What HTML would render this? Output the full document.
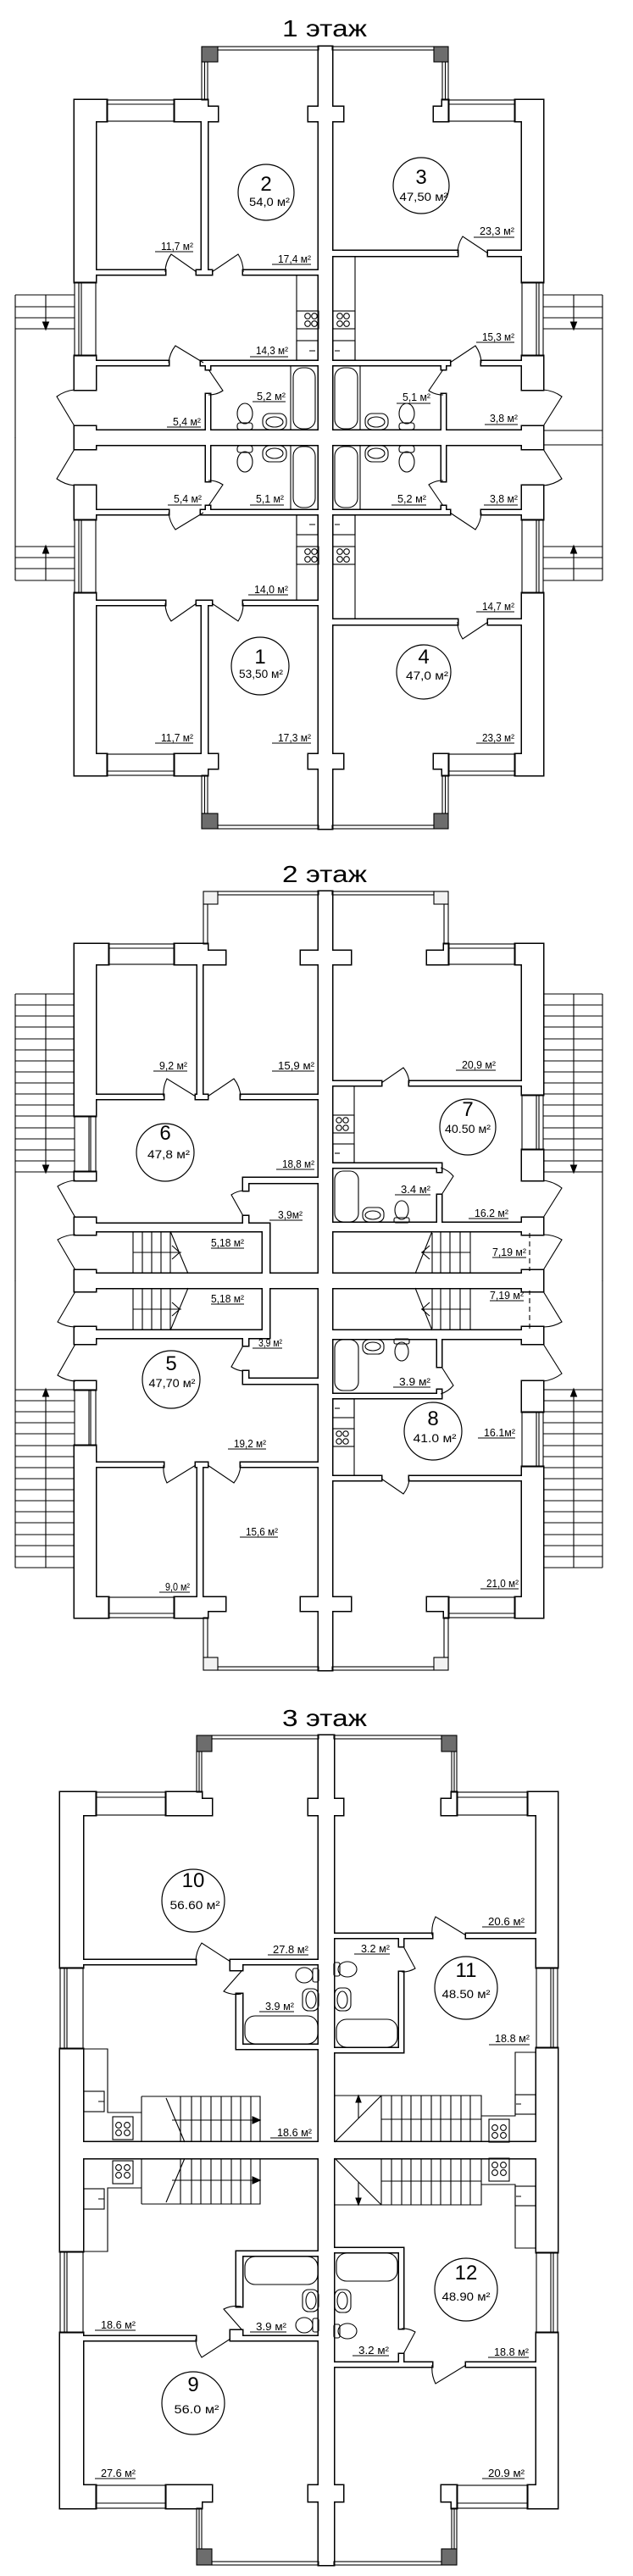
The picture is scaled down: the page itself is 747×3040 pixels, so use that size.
<!DOCTYPE html>
<html><head><meta charset="utf-8"><style>
html,body{margin:0;padding:0;background:#fff}
svg{display:block}
text{font-family:"Liberation Sans",Arial,sans-serif;font-size:13px;fill:#000}
.t{font-size:28px}
.n{font-size:24px;text-anchor:middle}
.a{font-size:14px;text-anchor:middle}
</style></head><body>
<svg xmlns="http://www.w3.org/2000/svg" xmlns:xlink="http://www.w3.org/1999/xlink" width="747" height="3040" viewBox="0 0 747 3040">
<defs>
<g id="w1">
<rect x="88" y="118" width="38" height="25"/><rect x="206" y="118" width="39" height="25"/><rect x="245" y="126" width="12" height="17"/>
<rect x="364" y="126" width="41" height="17"/><rect x="376" y="55" width="16" height="462"/>
<rect x="512" y="126" width="10" height="17"/><rect x="522" y="118" width="7" height="25"/><rect x="608" y="118" width="33" height="25"/>
<rect x="88" y="118" width="25" height="215"/><rect x="88" y="420" width="25" height="40"/><rect x="88" y="503" width="25" height="14"/>
<rect x="616" y="118" width="25" height="215"/><rect x="616" y="420" width="25" height="40"/><rect x="616" y="503" width="25" height="14"/>
<rect x="113" y="508" width="503" height="9"/>
<rect x="238" y="143" width="7" height="176"/><rect x="113" y="319" width="82" height="5"/><rect x="232" y="319" width="18" height="5"/><rect x="287" y="319" width="89" height="5"/>
<rect x="392" y="296" width="148" height="6"/><rect x="576" y="296" width="40" height="6"/>
<rect x="113" y="426" width="86" height="5"/><rect x="237" y="426" width="139" height="5"/><rect x="243" y="426" width="5" height="10"/><rect x="243" y="465" width="5" height="43"/>
<rect x="392" y="426" width="139" height="5"/><rect x="521" y="426" width="5" height="10"/><rect x="568" y="426" width="48" height="5"/><rect x="521" y="465" width="5" height="43"/>
</g>
<g id="d1">
<rect x="257" y="55" width="119" height="4"/><rect x="392" y="55" width="120" height="4"/>
<rect x="238" y="73" width="7" height="45"/><rect x="522" y="73" width="7" height="45"/>
<path d="M241.5,73V118M525.5,73V118"/>
<rect x="126" y="118" width="80" height="25"/><rect x="529" y="118" width="79" height="25"/><path d="M126,123H206M529,123H608"/>
<rect x="88" y="333" width="25" height="87"/><rect x="616" y="333" width="25" height="87"/>
<path d="M93,333V420M96,333V420M633,333V420M636,333V420"/>
<rect x="238" y="55" width="19" height="18" fill="#6d6d6d"/><rect x="512" y="55" width="17" height="18" fill="#6d6d6d"/>
<path d="M232,321L202,300A36,36 0 0 0 195,321M250,321L281,300A37,37 0 0 1 287,321M576,299L546,279A36,36 0 0 0 540,299M240,428L207,408A39,39 0 0 0 199,428M246,436L263,461A30,30 0 0 1 246,466M531,428L561,408A37,37 0 0 1 568,428M523,436L506,461A30,30 0 0 0 523,466M88,503L67,468A42,42 0 0 1 88,460M641,503L663,468A42,42 0 0 0 641,460"/>
<path d="M18,348H88M18,362H88M18,375H88M18,388H88M54,348V388M18,348V517M641,348H711M641,362H711M641,375H711M641,388H711M677,348V388M711,348V517M641,508H711"/>
<polygon points="50.5,380 57.5,380 54,389" fill="#000"/><polygon points="673.5,380 680.5,380 677,389" fill="#000"/>
<path d="M350,324V426M419,302V426"/>
<rect x="350" y="367" width="26" height="21"/><circle cx="363" cy="373" r="3.3"/><circle cx="371" cy="373" r="3.3"/><circle cx="363" cy="382" r="3.3"/><circle cx="371" cy="382" r="3.3"/>
<rect x="393" y="367" width="26" height="21"/><circle cx="401" cy="373" r="3.3"/><circle cx="409" cy="373" r="3.3"/><circle cx="401" cy="382" r="3.3"/><circle cx="409" cy="382" r="3.3"/>
<rect x="350" y="402" width="25" height="23"/><rect x="393" y="402" width="26" height="23"/><path d="M365,414H372M395,414H401"/>
<path d="M343,431V508M425,431V508"/>
<rect x="346" y="434" width="26" height="72" rx="11"/><rect x="395" y="434" width="27" height="72" rx="11"/>
<ellipse cx="289" cy="488" rx="9" ry="12"/><rect x="280" y="499" width="18" height="8" rx="3"/>
<rect x="310" y="488" width="28" height="19" rx="8"/><ellipse cx="324" cy="498" rx="10" ry="6"/>
<rect x="431" y="488" width="27" height="19" rx="8"/><ellipse cx="444" cy="498" rx="10" ry="6"/>
<ellipse cx="480" cy="488" rx="9" ry="12"/><rect x="471" y="499" width="18" height="8" rx="3"/>
</g>

<g id="w2">
<rect x="88" y="1114" width="40" height="24"/><rect x="206" y="1114" width="39" height="24"/><rect x="245" y="1122" width="21" height="16"/>
<rect x="355" y="1122" width="59" height="16"/><rect x="376" y="1052" width="16" height="460"/>
<rect x="504" y="1122" width="20" height="16"/><rect x="524" y="1114" width="5" height="24"/><rect x="608" y="1114" width="33" height="24"/>
<rect x="88" y="1114" width="25" height="203"/><rect x="88" y="1383" width="25" height="10"/><rect x="88" y="1437" width="25" height="20"/><rect x="88" y="1499" width="25" height="13"/>
<rect x="616" y="1114" width="25" height="178"/><rect x="616" y="1357" width="25" height="36"/><rect x="616" y="1437" width="25" height="20"/><rect x="616" y="1499" width="25" height="13"/>
<rect x="233" y="1138" width="6" height="154"/><rect x="112" y="1292" width="81" height="5"/><rect x="231" y="1292" width="14" height="5"/><rect x="284" y="1292" width="92" height="5"/>
<rect x="392" y="1276" width="58" height="5"/><rect x="483" y="1276" width="133" height="5"/>
<rect x="392" y="1373" width="129" height="5"/><rect x="516" y="1373" width="5" height="10"/><rect x="516" y="1410" width="5" height="33"/>
<rect x="287" y="1390" width="89" height="6"/><rect x="287" y="1390" width="6" height="15"/><rect x="287" y="1435" width="6" height="9"/>
<rect x="113" y="1444" width="205" height="9"/><rect x="310" y="1444" width="8" height="59"/><rect x="392" y="1443" width="224" height="10"/>
<rect x="113" y="1503" width="503" height="9"/>
</g>
<g id="d2">
<rect x="257" y="1052" width="119" height="4"/><rect x="392" y="1052" width="120" height="4"/>
<rect x="240" y="1067" width="5" height="47"/><rect x="524" y="1067" width="5" height="47"/>
<rect x="240" y="1052" width="17" height="15" fill="#f2f2f2"/><rect x="512" y="1052" width="17" height="15" fill="#f2f2f2"/>
<rect x="128" y="1114" width="78" height="24"/><rect x="529" y="1114" width="79" height="24"/><path d="M128,1119H206M529,1119H608"/>
<rect x="88" y="1317" width="25" height="66"/><rect x="616" y="1292" width="25" height="65"/>
<path d="M105,1317V1383M107,1317V1383M633,1292V1357M636,1292V1357"/>
<path d="M231,1294L197,1273A40,40 0 0 0 193,1294M245,1294L276,1273A38,38 0 0 1 284,1294M450,1278L476,1260A32,32 0 0 1 483,1278M521,1410L535,1388A32,32 0 0 0 520,1378M287,1435L273,1410A30,30 0 0 1 287,1405M89,1437L68,1400A44,44 0 0 1 89,1393M89,1499L68,1463A42,42 0 0 1 89,1457M641,1437L663,1402A44,44 0 0 0 641,1393M641,1499L663,1463A42,42 0 0 0 641,1457"/>
<path d="M18,1173H88M18,1186H88M18,1199H88M18,1212H88M18,1226H88M18,1239H88M18,1252H88M18,1265H88M18,1278H88M18,1291H88M18,1304H88M18,1317H88M18,1331H88M18,1344H88M18,1357H88M18,1370H88M18,1383H88M54,1173V1383M18,1173V1512"/>
<path d="M641,1173H711M641,1186H711M641,1199H711M641,1212H711M641,1226H711M641,1239H711M641,1252H711M641,1265H711M641,1278H711M641,1291H711M641,1304H711M641,1317H711M641,1331H711M641,1344H711M641,1357H711M641,1370H711M641,1383H711M677,1173V1383M711,1173V1512"/>
<polygon points="50.5,1375 57.5,1375 54,1384" fill="#000"/><polygon points="673.5,1375 680.5,1375 677,1384" fill="#000"/>
<path d="M157,1453V1503M168,1453V1503M179,1453V1503M190,1453V1503M201,1453V1503M157,1478H214M201,1453L222,1503M203,1470L212,1478L203,1486"/>
<path d="M510,1455V1503M520,1453V1503M531,1453V1503M543,1453V1503M555,1453V1503M497,1478H555M510,1453L490,1503M507,1470L498,1478L507,1486"/>
<path d="M625,1455V1500" stroke-dasharray="6,4"/>
<path d="M418,1281V1373"/>
<rect x="393" y="1316" width="25" height="21"/><circle cx="400" cy="1322" r="3.2"/><circle cx="408" cy="1322" r="3.2"/><circle cx="400" cy="1331" r="3.2"/><circle cx="408" cy="1331" r="3.2"/>
<rect x="393" y="1350" width="25" height="22"/><path d="M395,1361H401"/>
<rect x="395" y="1382" width="28" height="60" rx="10"/>
<rect x="428" y="1425" width="25" height="17" rx="7"/><ellipse cx="440" cy="1434" rx="9" ry="5"/>
<ellipse cx="474" cy="1428" rx="8" ry="11"/><rect x="465" y="1437" width="18" height="6" rx="2"/>
</g>

<g id="w3">
<rect x="71" y="2115" width="42" height="27"/><rect x="196" y="2115" width="42" height="27"/><rect x="238" y="2123" width="12" height="19"/>
<rect x="364" y="2123" width="41" height="19"/><rect x="376" y="2048" width="18" height="490"/>
<rect x="521" y="2123" width="12" height="19"/><rect x="533" y="2115" width="6" height="27"/><rect x="623" y="2115" width="35" height="27"/>
<rect x="71" y="2115" width="27" height="207"/><rect x="71" y="2418" width="27" height="120"/>
<rect x="633" y="2115" width="25" height="207"/><rect x="633" y="2417" width="25" height="121"/>
<rect x="98" y="2313" width="133" height="5"/><rect x="272" y="2313" width="104" height="5"/><rect x="272" y="2313" width="14" height="12"/>
<rect x="279" y="2353" width="7" height="65"/><rect x="279" y="2413" width="97" height="5"/>
<rect x="394" y="2282" width="116" height="5"/><rect x="550" y="2282" width="83" height="5"/>
<rect x="471" y="2282" width="5" height="15"/><rect x="471" y="2327" width="5" height="95"/><rect x="394" y="2417" width="82" height="5"/>
<rect x="98" y="2528" width="278" height="10"/><rect x="394" y="2528" width="239" height="10"/>
</g>
<g id="d3">
<rect x="250" y="2048" width="126" height="4"/><rect x="394" y="2048" width="127" height="4"/>
<rect x="232" y="2067" width="6" height="48"/><rect x="533" y="2067" width="6" height="48"/>
<path d="M235,2067V2115M536,2067V2115"/>
<rect x="232" y="2048" width="18" height="19" fill="#6d6d6d"/><rect x="521" y="2048" width="18" height="19" fill="#6d6d6d"/>
<rect x="113" y="2115" width="83" height="27"/><rect x="539" y="2115" width="84" height="27"/><path d="M113,2121H196M539,2121H623"/>
<rect x="71" y="2322" width="27" height="96"/><rect x="633" y="2322" width="25" height="95"/>
<path d="M76,2322V2418M79,2322V2418M650,2322V2417M653,2322V2417"/>
<path d="M272,2315L238,2293A40,40 0 0 0 231,2315M286,2325L264,2350A33,33 0 0 0 285,2353M550,2284L514,2262A40,40 0 0 0 510,2284M476,2297L490,2323A30,30 0 0 1 474,2327"/>
<path d="M98,2418H127V2493H167M633,2422H608V2497H568"/>
<rect x="99" y="2468" width="24" height="24"/><path d="M116,2480H123M609,2483H615"/><rect x="608" y="2472" width="24" height="23"/>
<rect x="133" y="2498" width="24" height="27"/><circle cx="140" cy="2508" r="3.4"/><circle cx="150" cy="2508" r="3.4"/><circle cx="140" cy="2517" r="3.4"/><circle cx="150" cy="2517" r="3.4"/>
<rect x="577" y="2501" width="24" height="27"/><circle cx="584" cy="2511" r="3.4"/><circle cx="594" cy="2511" r="3.4"/><circle cx="584" cy="2520" r="3.4"/><circle cx="594" cy="2520" r="3.4"/>
<path d="M167,2474H307V2528M167,2474V2528M196,2476L218,2528M203,2502H305M213,2474V2528M226,2474V2528M237,2474V2528M249,2474V2528M261,2474V2528M273,2474V2528M284,2474V2528M296,2474V2528"/>
<polygon points="298,2498 307,2502 298,2506" fill="#000"/>
<path d="M394,2473H568V2528M450,2473L395,2528M450,2501H568M450,2473V2528M462,2473V2528M474,2473V2528M485,2473V2528M497,2473V2528M509,2473V2528M520,2473V2528M532,2473V2528M544,2473V2528M555,2473V2528M423,2500V2479"/>
<polygon points="420,2481 426,2481 423,2473" fill="#000"/>
<rect x="289" y="2379" width="86" height="33" rx="12"/>
<rect x="357" y="2347" width="19" height="26" rx="7"/><ellipse cx="367" cy="2360" rx="6" ry="10"/>
<ellipse cx="359" cy="2331" rx="10" ry="9"/><rect x="369" y="2323" width="7" height="16" rx="2"/>
<rect x="397" y="2383" width="72" height="33" rx="12"/>
<rect x="395" y="2346" width="19" height="27" rx="7"/><ellipse cx="404" cy="2360" rx="6" ry="10"/>
<ellipse cx="410" cy="2324" rx="11" ry="9"/><rect x="394" y="2316" width="7" height="16" rx="2"/>
</g>
</defs>

<rect width="747" height="3040" fill="#fff"/>

<g stroke="#000" stroke-width="3" fill="#fff">
<use xlink:href="#w1"/><use xlink:href="#w1" transform="matrix(1,0,0,-1,0,1033)"/>
<use xlink:href="#w2"/><use xlink:href="#w2" transform="matrix(1,0,0,-1,0,3023)"/>
<use xlink:href="#w3"/><use xlink:href="#w3" transform="matrix(1,0,0,-1,0,5075)"/>
</g>
<g fill="#fff" stroke="none">
<use xlink:href="#w1"/><use xlink:href="#w1" transform="matrix(1,0,0,-1,0,1033)"/>
<use xlink:href="#w2"/><use xlink:href="#w2" transform="matrix(1,0,0,-1,0,3023)"/>
<use xlink:href="#w3"/><use xlink:href="#w3" transform="matrix(1,0,0,-1,0,5075)"/>
</g>
<g fill="none" stroke="#000" stroke-width="1.1">
<use xlink:href="#d1"/><use xlink:href="#d1" transform="matrix(1,0,0,-1,0,1033)"/>
<use xlink:href="#d2"/><use xlink:href="#d2" transform="matrix(1,0,0,-1,0,3023)"/>
<use xlink:href="#d3"/><use xlink:href="#d3" transform="matrix(1,0,0,-1,0,5075)"/>
</g>

<text class="t" x="333" y="43" textLength="100" lengthAdjust="spacingAndGlyphs">1 этаж</text>
<text class="t" x="333" y="1041" textLength="100" lengthAdjust="spacingAndGlyphs">2 этаж</text>
<text class="t" x="333" y="2037" textLength="100" lengthAdjust="spacingAndGlyphs">3 этаж</text>

<g fill="none" stroke="#000" stroke-width="1.2">
<circle cx="314" cy="227" r="33"/><circle cx="497" cy="219" r="33"/><circle cx="307" cy="786" r="34"/><circle cx="500" cy="793" r="32"/>
<circle cx="195" cy="1360" r="34"/><circle cx="552" cy="1330" r="33"/><circle cx="202" cy="1628" r="34"/><circle cx="511" cy="1689" r="34"/>
<circle cx="228" cy="2243" r="37"/><circle cx="550" cy="2346" r="37"/><circle cx="550" cy="2702" r="37"/><circle cx="228" cy="2836" r="37"/>
</g>
<text class="n" x="314" y="225">2</text><text class="a" x="318" y="243" textLength="48" lengthAdjust="spacingAndGlyphs">54,0 м²</text>
<text class="n" x="497" y="217">3</text><text class="a" x="500" y="237" textLength="57" lengthAdjust="spacingAndGlyphs">47,50 м²</text>
<text class="n" x="307" y="783">1</text><text class="a" x="308" y="800" textLength="52" lengthAdjust="spacingAndGlyphs">53,50 м²</text>
<text class="n" x="500" y="783">4</text><text class="a" x="504" y="802" textLength="50" lengthAdjust="spacingAndGlyphs">47,0 м²</text>
<text class="n" x="195" y="1345">6</text><text class="a" x="199" y="1367" textLength="50" lengthAdjust="spacingAndGlyphs">47,8 м²</text>
<text class="n" x="552" y="1317">7</text><text class="a" x="552" y="1337" textLength="54" lengthAdjust="spacingAndGlyphs">40.50 м²</text>
<text class="n" x="202" y="1617">5</text><text class="a" x="203" y="1637" textLength="55" lengthAdjust="spacingAndGlyphs">47,70 м²</text>
<text class="n" x="511" y="1682">8</text><text class="a" x="513" y="1702" textLength="51" lengthAdjust="spacingAndGlyphs">41.0 м²</text>
<text class="n" x="228" y="2227">10</text><text class="a" x="230" y="2253" textLength="59" lengthAdjust="spacingAndGlyphs">56.60 м²</text>
<text class="n" x="550" y="2333">11</text><text class="a" x="550" y="2358" textLength="57" lengthAdjust="spacingAndGlyphs">48.50 м²</text>
<text class="n" x="550" y="2690">12</text><text class="a" x="550" y="2715" textLength="57" lengthAdjust="spacingAndGlyphs">48.90 м²</text>
<text class="n" x="228" y="2822">9</text><text class="a" x="232" y="2848" textLength="53" lengthAdjust="spacingAndGlyphs">56.0 м²</text>

<g>
<text x="190" y="295" textLength="38" lengthAdjust="spacingAndGlyphs">11,7 м²</text>
<text x="328" y="310" textLength="39" lengthAdjust="spacingAndGlyphs">17,4 м²</text>
<text x="566" y="277" textLength="41" lengthAdjust="spacingAndGlyphs">23,3 м²</text>
<text x="302" y="418" textLength="38" lengthAdjust="spacingAndGlyphs">14,3 м²</text>
<text x="569" y="402" textLength="38" lengthAdjust="spacingAndGlyphs">15,3 м²</text>
<text x="303" y="472" textLength="34" lengthAdjust="spacingAndGlyphs">5,2 м²</text>
<text x="475" y="473" textLength="33" lengthAdjust="spacingAndGlyphs">5,1 м²</text>
<text x="204" y="502" textLength="33" lengthAdjust="spacingAndGlyphs">5,4 м²</text>
<text x="578" y="498" textLength="33" lengthAdjust="spacingAndGlyphs">3,8 м²</text>
<text x="205" y="593" textLength="33" lengthAdjust="spacingAndGlyphs">5,4 м²</text>
<text x="302" y="593" textLength="33" lengthAdjust="spacingAndGlyphs">5,1 м²</text>
<text x="469" y="593" textLength="34" lengthAdjust="spacingAndGlyphs">5,2 м²</text>
<text x="578" y="593" textLength="33" lengthAdjust="spacingAndGlyphs">3,8 м²</text>
<text x="300" y="700" textLength="40" lengthAdjust="spacingAndGlyphs">14,0 м²</text>
<text x="569" y="720" textLength="38" lengthAdjust="spacingAndGlyphs">14,7 м²</text>
<text x="190" y="875" textLength="38" lengthAdjust="spacingAndGlyphs">11,7 м²</text>
<text x="328" y="875" textLength="39" lengthAdjust="spacingAndGlyphs">17,3 м²</text>
<text x="569" y="875" textLength="38" lengthAdjust="spacingAndGlyphs">23,3 м²</text>

<text x="188" y="1262" textLength="33" lengthAdjust="spacingAndGlyphs">9,2 м²</text>
<text x="328" y="1262" textLength="43" lengthAdjust="spacingAndGlyphs">15,9 м²</text>
<text x="545" y="1261" textLength="40" lengthAdjust="spacingAndGlyphs">20,9 м²</text>
<text x="333" y="1378" textLength="38" lengthAdjust="spacingAndGlyphs">18,8 м²</text>
<text x="328" y="1438" textLength="29" lengthAdjust="spacingAndGlyphs">3,9м²</text>
<text x="473" y="1408" textLength="35" lengthAdjust="spacingAndGlyphs">3.4 м²</text>
<text x="560" y="1436" textLength="40" lengthAdjust="spacingAndGlyphs">16.2 м²</text>
<text x="249" y="1471" textLength="39" lengthAdjust="spacingAndGlyphs">5,18 м²</text>
<text x="581" y="1482" textLength="40" lengthAdjust="spacingAndGlyphs">7,19 м²</text>
<text x="249" y="1537" textLength="39" lengthAdjust="spacingAndGlyphs">5,18 м²</text>
<text x="578" y="1533" textLength="40" lengthAdjust="spacingAndGlyphs">7,19 м²</text>
<text x="305" y="1589" textLength="28" lengthAdjust="spacingAndGlyphs">3,9 м²</text>
<text x="471" y="1635" textLength="37" lengthAdjust="spacingAndGlyphs">3.9 м²</text>
<text x="276" y="1708" textLength="38" lengthAdjust="spacingAndGlyphs">19,2 м²</text>
<text x="571" y="1695" textLength="37" lengthAdjust="spacingAndGlyphs">16.1м²</text>
<text x="290" y="1812" textLength="38" lengthAdjust="spacingAndGlyphs">15,6 м²</text>
<text x="195" y="1877" textLength="29" lengthAdjust="spacingAndGlyphs">9,0 м²</text>
<text x="574" y="1873" textLength="38" lengthAdjust="spacingAndGlyphs">21,0 м²</text>

<text x="322" y="2305" textLength="42" lengthAdjust="spacingAndGlyphs">27.8 м²</text>
<text x="313" y="2372" textLength="34" lengthAdjust="spacingAndGlyphs">3.9 м²</text>
<text x="327" y="2521" textLength="41" lengthAdjust="spacingAndGlyphs">18.6 м²</text>
<text x="576" y="2272" textLength="43" lengthAdjust="spacingAndGlyphs">20.6 м²</text>
<text x="426" y="2304" textLength="34" lengthAdjust="spacingAndGlyphs">3.2 м²</text>
<text x="584" y="2410" textLength="41" lengthAdjust="spacingAndGlyphs">18.8 м²</text>
<text x="119" y="2748" textLength="41" lengthAdjust="spacingAndGlyphs">18.6 м²</text>
<text x="302" y="2750" textLength="36" lengthAdjust="spacingAndGlyphs">3.9 м²</text>
<text x="119" y="2923" textLength="41" lengthAdjust="spacingAndGlyphs">27.6 м²</text>
<text x="423" y="2778" textLength="36" lengthAdjust="spacingAndGlyphs">3.2 м²</text>
<text x="583" y="2780" textLength="41" lengthAdjust="spacingAndGlyphs">18.8 м²</text>
<text x="576" y="2923" textLength="43" lengthAdjust="spacingAndGlyphs">20.9 м²</text>
</g>

<path fill="none" stroke="#000" stroke-width="1" d="M183,297H228M321,312H367M559,280H607M295,421H340M562,404H607M298,474H337M468,476H508M197,504H237M572,501H611M198,596H238M295,596H335M462,596H503M571,596H611M293,702H340M562,722H607M183,877H228M321,877H367M562,877H607
M181,1264H221M321,1264H371M538,1263H585M326,1380H371M318,1440H357M466,1410H508M553,1438H600M249,1473H288M581,1484H621M249,1539H288M578,1535H618M298,1591H333M464,1637H508M269,1710H314M564,1697H608M283,1814H328M188,1879H224M567,1875H612
M316,2307H364M306,2374H347M319,2523H368M569,2274H619M418,2306H460M577,2413H625M112,2750H160M295,2752H338M112,2925H160M416,2780H459M576,2782H624M569,2925H619"/>
</svg>
</body></html>
